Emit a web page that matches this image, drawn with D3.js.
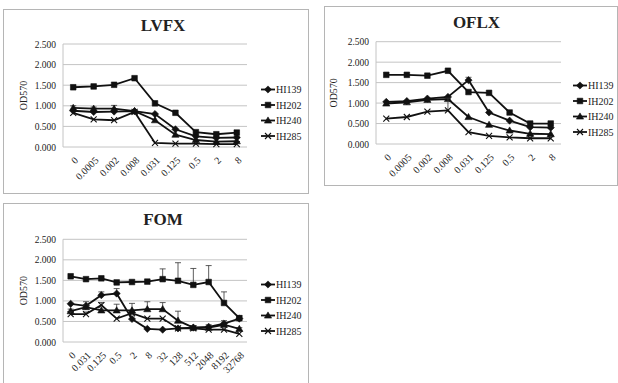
<!DOCTYPE html>
<html>
<head>
<meta charset="utf-8">
<script src="https://cdn.jsdelivr.net/npm/d3@7"></script>
<style>
  body { margin: 0; background: #fff; }
  svg { display: block; }
  svg text { font-family: "Liberation Serif", "DejaVu Serif", serif !important; fill: #222; }
</style>
</head>
<body>
<svg id="chart" width="618" height="383"></svg>
<script>
// series / ticks
const seriesNames = ['HI139', 'IH202', 'IH240', 'IH285'];
const yTicks = [0, 0.5, 1, 1.5, 2, 2.5];

// LVFX
const lvfxDoses = ['0', '0.0005', '0.002', '0.008', '0.031', '0.125', '0.5', '2', '8'];
const lvfxHI139 = [0.88, 0.85, 0.86, 0.87, 0.80, 0.43, 0.26, 0.22, 0.23];
const lvfxIH202 = [1.45, 1.47, 1.51, 1.67, 1.06, 0.83, 0.36, 0.31, 0.35];
const lvfxIH240 = [0.95, 0.93, 0.93, 0.87, 0.65, 0.30, 0.17, 0.13, 0.14];
const lvfxIH285 = [0.83, 0.67, 0.65, 0.85, 0.10, 0.08, 0.08, 0.07, 0.07];
const lvfxErrHI139 = [0, 0, 0, 0, 0, 0, 0, 0, 0];
const lvfxErrIH202 = [0, 0, 0, 0, 0, 0, 0, 0, 0];
const lvfxErrIH240 = [0.05, 0.04, 0.08, 0.02, 0, 0, 0, 0, 0];
const lvfxErrIH285 = [0, 0, 0, 0, 0, 0, 0, 0, 0];

// OFLX
const oflxDoses = ['0', '0.0005', '0.002', '0.008', '0.031', '0.125', '0.5', '2', '8'];
const oflxHI139 = [1.03, 1.05, 1.11, 1.15, 1.56, 0.77, 0.57, 0.41, 0.40];
const oflxIH202 = [1.69, 1.69, 1.67, 1.79, 1.27, 1.25, 0.77, 0.50, 0.50];
const oflxIH240 = [0.99, 1.02, 1.08, 1.10, 0.66, 0.47, 0.33, 0.25, 0.24];
const oflxIH285 = [0.62, 0.66, 0.79, 0.82, 0.29, 0.20, 0.16, 0.14, 0.14];
const oflxErrHI139 = [0, 0, 0, 0, 0.07, 0, 0, 0, 0];
const oflxErrIH202 = [0, 0, 0, 0, 0, 0, 0, 0, 0];
const oflxErrIH240 = [0, 0, 0, 0, 0, 0, 0, 0, 0];
const oflxErrIH285 = [0, 0, 0, 0.30, 0, 0, 0, 0, 0];

// FOM
const fomDoses = ['0', '0.031', '0.125', '0.5', '2', '8', '32', '128', '512', '2048', '8192', '32768'];
const fomHI139 = [0.93, 0.88, 1.14, 1.18, 0.56, 0.32, 0.30, 0.33, 0.35, 0.37, 0.45, 0.57];
const fomIH202 = [1.60, 1.53, 1.55, 1.45, 1.46, 1.47, 1.53, 1.49, 1.39, 1.46, 0.95, 0.58];
const fomIH240 = [0.75, 0.85, 0.77, 0.77, 0.77, 0.80, 0.80, 0.52, 0.35, 0.35, 0.42, 0.32];
const fomIH285 = [0.68, 0.68, 0.90, 0.57, 0.70, 0.57, 0.57, 0.33, 0.33, 0.30, 0.30, 0.20];
const fomErrHI139 = [0, 0.10, 0.08, 0.12, 0, 0, 0, 0, 0, 0, 0, 0];
const fomErrIH202 = [0, 0, 0, 0, 0, 0, 0.25, 0.44, 0.40, 0.40, 0.27, 0.06];
const fomErrIH240 = [0.05, 0.05, 0, 0.15, 0.17, 0.18, 0.16, 0.23, 0.05, 0.07, 0.10, 0.03];
const fomErrIH285 = [0.05, 0.05, 0.06, 0, 0, 0, 0, 0, 0, 0, 0, 0];

const markerTypes = ['diamond', 'square', 'triangle', 'x'];
const serif = '"Liberation Serif", "DejaVu Serif", serif';

const panels = [
  { title: 'LVFX', doses: lvfxDoses,
    values: [lvfxHI139, lvfxIH202, lvfxIH240, lvfxIH285],
    errors: [lvfxErrHI139, lvfxErrIH202, lvfxErrIH240, lvfxErrIH285],
    box: [3.5, 9.5, 305, 184], x0: 63, x1: 247, yTop: 44, yBot: 147,
    titleY: 31, axisTitleX: 27, legendX: 261, legendY: 89.5 },
  { title: 'OFLX', doses: oflxDoses,
    values: [oflxHI139, oflxIH202, oflxIH240, oflxIH285],
    errors: [oflxErrHI139, oflxErrIH202, oflxErrIH240, oflxErrIH285],
    box: [324.5, 6.5, 293, 179], x0: 376, x1: 561, yTop: 41.7, yBot: 144,
    titleY: 28, axisTitleX: 337, legendX: 573, legendY: 85.5 },
  { title: 'FOM', doses: fomDoses,
    values: [fomHI139, fomIH202, fomIH240, fomIH285],
    errors: [fomErrHI139, fomErrIH202, fomErrIH240, fomErrIH285],
    box: [3.5, 203.5, 305, 182], x0: 63, x1: 247, yTop: 239.3, yBot: 342,
    titleY: 225, axisTitleX: 27, legendX: 261, legendY: 284.5 }
];

const svg = d3.select('#chart');

function markerPath(type, cx, cy) {
  if (type === 'square') return `M${cx - 2.8},${cy - 2.8}h5.6v5.6h-5.6Z`;
  if (type === 'diamond') return `M${cx},${cy - 3.6}L${cx + 3.6},${cy}L${cx},${cy + 3.6}L${cx - 3.6},${cy}Z`;
  if (type === 'triangle') return `M${cx},${cy - 3.6}L${cx + 3.6},${cy + 2.6}L${cx - 3.6},${cy + 2.6}Z`;
  return `M${cx - 3},${cy - 3}L${cx + 3},${cy + 3}M${cx + 3},${cy - 3}L${cx - 3},${cy + 3}`;
}

function drawMarker(g, type, cx, cy) {
  g.append('path')
    .attr('d', markerPath(type, cx, cy))
    .attr('fill', type === 'x' ? 'none' : '#111')
    .attr('stroke', '#111')
    .attr('stroke-width', type === 'x' ? 1.1 : 0.6);
}

function drawPanel(p) {
  const g = svg.append('g');

  g.append('rect')
    .attr('x', p.box[0]).attr('y', p.box[1])
    .attr('width', p.box[2]).attr('height', p.box[3])
    .attr('fill', '#fff').attr('stroke', '#b5b5b5');

  const x = d3.scalePoint().domain(p.doses).range([p.x0, p.x1]).padding(0.5);
  const y = d3.scaleLinear().domain([0, 2.5]).range([p.yBot, p.yTop]);

  // gridlines
  g.selectAll('.grid').data(yTicks).join('line')
    .attr('x1', p.x0).attr('x2', p.x1)
    .attr('y1', d => y(d)).attr('y2', d => y(d))
    .attr('stroke', '#c4c4c4').attr('stroke-width', 1);
  g.append('line')
    .attr('x1', p.x0).attr('x2', p.x0)
    .attr('y1', y(0)).attr('y2', y(2.5))
    .attr('stroke', '#c4c4c4');

  // y axis
  const ya = g.append('g')
    .attr('transform', `translate(${p.x0 - 4},0)`)
    .call(d3.axisLeft(y).tickValues(yTicks).tickFormat(d3.format('.3f')).tickSize(0))
    .attr('font-family', serif);
  ya.select('.domain').remove();
  ya.selectAll('text').attr('font-size', 9.5).attr('fill', '#444');

  // x axis, labels slanted
  const xa = g.append('g')
    .attr('transform', `translate(0,${p.yBot})`)
    .call(d3.axisBottom(x).tickSize(0))
    .attr('font-family', serif);
  xa.select('.domain').remove();
  xa.selectAll('text')
    .attr('x', 0).attr('y', 0).attr('dy', 0)
    .attr('text-anchor', 'end')
    .attr('transform', 'translate(5,14) rotate(-45)')
    .attr('font-size', 10).attr('fill', '#333');

  // title
  g.append('text')
    .attr('x', (p.x0 + p.x1) / 2 + 8).attr('y', p.titleY)
    .attr('text-anchor', 'middle')
    .attr('font-family', serif)
    .attr('font-size', 17).attr('font-weight', 'bold')
    .text(p.title);

  g.append('text')
    .attr('transform', `translate(${p.axisTitleX},${(p.yTop + p.yBot) / 2}) rotate(-90)`)
    .attr('text-anchor', 'middle')
    .attr('font-family', serif)
    .attr('font-size', 10)
    .text('OD570');

  const line = d3.line().x((d, i) => x(p.doses[i])).y(d => y(d));

  p.values.forEach((vals, s) => {
    // error bars (upper only, with caps)
    vals.forEach((v, i) => {
      const e = p.errors[s][i];
      if (!e) return;
      const cx = x(p.doses[i]);
      g.append('path')
        .attr('d', `M${cx},${y(v)}V${y(v + e)}M${cx - 3},${y(v + e)}H${cx + 3}`)
        .attr('stroke', '#333').attr('stroke-width', 0.8).attr('fill', 'none');
    });
    g.append('path')
      .datum(vals)
      .attr('d', line)
      .attr('fill', 'none')
      .attr('stroke', '#111')
      .attr('stroke-width', 1.8);
    vals.forEach((v, i) => drawMarker(g, markerTypes[s], x(p.doses[i]), y(v)));
  });

  // legend
  seriesNames.forEach((name, s) => {
    const ly = p.legendY + s * 15.5;
    g.append('line')
      .attr('x1', p.legendX).attr('x2', p.legendX + 14)
      .attr('y1', ly).attr('y2', ly)
      .attr('stroke', '#111').attr('stroke-width', 1.8);
    drawMarker(g, markerTypes[s], p.legendX + 7, ly);
    g.append('text')
      .attr('x', p.legendX + 15).attr('y', ly + 3.5)
      .attr('font-family', serif)
      .attr('font-size', 10)
      .text(name);
  });
}

panels.forEach(drawPanel);
</script>
</body>
</html>
